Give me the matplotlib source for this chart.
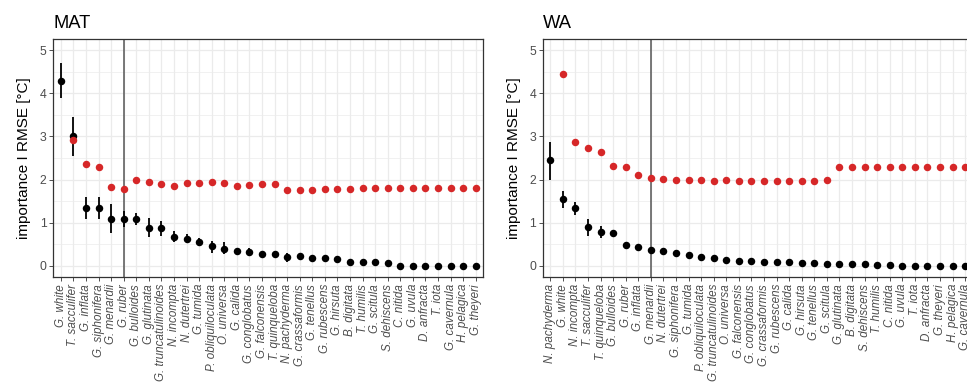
import matplotlib
matplotlib.use("Agg")
import matplotlib.pyplot as plt
import numpy as np

plt.rcParams['font.family'] = ['Liberation Sans', 'DejaVu Sans']

# --- data ---
mat_species = ["G. white", "T. sacculifer", "G. inflata", "G. siphonifera", "G. menardii",
               "G. ruber", "G. bulloides", "G. glutinata", "G. truncatulinoides", "N. incompta",
               "N. dutertrei", "G. tumida", "P. obliquiloculata", "O. universa", "G. calida",
               "G. conglobatus", "G. falconensis", "T. quinqueloba", "N. pachyderma",
               "G. crassaformis", "G. tenellus", "G. rubescens", "G. hirsuta", "B. digitata",
               "T. humilis", "G. scitula", "S. dehiscens", "C. nitida", "G. uvula",
               "D. anfracta", "T. iota", "G. cavernula", "H. pelagica", "G. theyeri"]
mat_importance = [4.28, 3.0, 1.33, 1.33, 1.09, 1.09, 1.09, 0.88, 0.87, 0.68, 0.62, 0.55,
                  0.46, 0.40, 0.35, 0.33, 0.27, 0.27, 0.21, 0.22, 0.19, 0.19, 0.15, 0.10,
                  0.10, 0.10, 0.07, 0.0, 0.0, 0.0, 0.0, 0.0, 0.0, 0.0]
mat_lower = [3.90, 2.54, 1.08, 1.08, 0.77, 0.90, 0.94, 0.67, 0.69, 0.55, 0.52, 0.45,
             0.31, 0.27, 0.31, 0.23, 0.23, 0.23, 0.10, 0.18, 0.16, 0.16, 0.12, 0.07,
             0.07, 0.07, 0.04, 0.0, 0.0, 0.0, 0.0, 0.0, 0.0, 0.0]
mat_upper = [4.69, 3.46, 1.59, 1.59, 1.44, 1.28, 1.23, 1.10, 1.05, 0.82, 0.73, 0.65,
             0.58, 0.55, 0.39, 0.42, 0.31, 0.31, 0.31, 0.26, 0.22, 0.22, 0.18, 0.13,
             0.13, 0.13, 0.10, 0.02, 0.02, 0.02, 0.02, 0.02, 0.02, 0.02]
mat_rmse = [np.nan, 2.92, 2.37, 2.28, 1.82, 1.79, 1.98, 1.94, 1.90, 1.86, 1.93, 1.93,
            1.94, 1.91, 1.85, 1.87, 1.89, 1.90, 1.75, 1.75, 1.76, 1.78, 1.79, 1.79,
            1.81, 1.81, 1.81, 1.80, 1.80, 1.80, 1.80, 1.80, 1.80, 1.80]
mat_cut = "G. ruber"

wa_species = ["N. pachyderma", "G. white", "N. incompta", "T. sacculifer", "T. quinqueloba",
              "G. bulloides", "G. ruber", "G. inflata", "G. menardii", "N. dutertrei",
              "G. siphonifera", "G. tumida", "P. obliquiloculata", "G. truncatulinoides",
              "O. universa", "G. falconensis", "G. conglobatus", "G. crassaformis",
              "G. rubescens", "G. calida", "G. hirsuta", "G. tenellus", "G. scitula",
              "G. glutinata", "B. digitata", "S. dehiscens", "T. humilis", "C. nitida",
              "G. uvula", "T. iota", "D. anfracta", "G. theyeri", "H. pelagica", "G. cavernula"]
wa_importance = [2.45, 1.54, 1.34, 0.90, 0.79, 0.77, 0.48, 0.44, 0.37, 0.35, 0.30, 0.26,
                 0.20, 0.19, 0.13, 0.12, 0.11, 0.10, 0.09, 0.085, 0.07, 0.06, 0.05, 0.05,
                 0.04, 0.04, 0.02, 0.015, 0.0, 0.0, 0.0, 0.0, 0.0, 0.0]
wa_lower = [2.00, 1.33, 1.19, 0.69, 0.65, 0.72, 0.40, 0.41, 0.34, 0.32, 0.27, 0.23,
            0.17, 0.16, 0.10, 0.09, 0.08, 0.07, 0.06, 0.06, 0.05, 0.04, 0.03, 0.03,
            0.02, 0.02, 0.0, 0.0, 0.0, 0.0, 0.0, 0.0, 0.0, 0.0]
wa_upper = [2.88, 1.73, 1.48, 1.09, 0.92, 0.82, 0.55, 0.47, 0.40, 0.38, 0.33, 0.29,
            0.23, 0.22, 0.16, 0.15, 0.14, 0.13, 0.12, 0.11, 0.09, 0.08, 0.07, 0.07,
            0.06, 0.06, 0.04, 0.03, 0.02, 0.02, 0.02, 0.02, 0.02, 0.02]
wa_rmse = [np.nan, 4.45, 2.86, 2.72, 2.65, 2.32, 2.28, 2.10, 2.04, 2.02, 2.00, 1.98,
           1.98, 1.96, 1.98, 1.96, 1.96, 1.96, 1.96, 1.96, 1.96, 1.96, 1.98, 2.28,
           2.28, 2.28, 2.28, 2.28, 2.28, 2.28, 2.28, 2.28, 2.28, 2.28]
wa_cut = "G. menardii"

panels = [("MAT", mat_species, mat_importance, mat_lower, mat_upper, mat_rmse, mat_cut),
          ("WA", wa_species, wa_importance, wa_lower, wa_upper, wa_rmse, wa_cut)]

RED = "#D62728"
GRID = "#EBEBEB"
TXT = "#4D4D4D"

fig = plt.figure(figsize=(9.67, 3.86), dpi=100)
# the right panel runs past the figure edge, as in the reference
axes = [fig.add_axes([0.0551, 0.2832, 0.4447, 0.615]),
        fig.add_axes([0.5612, 0.2832, 0.4447, 0.615])]

for ax, (title, species, imp, lo, hi, rmse, cut) in zip(axes, panels):
    x = np.arange(len(species))
    ax.set_xlim(-0.6, len(species) - 0.4)
    ax.set_ylim(-0.25, 5.25)

    # grid
    ax.set_yticks([0, 1, 2, 3, 4, 5])
    ax.set_yticks(np.arange(0.5, 5.0, 1.0), minor=True)
    ax.set_xticks(x)
    ax.grid(True, which="major", color=GRID, linewidth=0.9, zorder=0)
    ax.grid(True, which="minor", axis="y", color=GRID, linewidth=0.5, zorder=0)
    ax.set_axisbelow(True)

    # cut-off line
    ax.axvline(species.index(cut), color="#555555", linewidth=1.1, zorder=1)

    # point ranges
    ax.vlines(x, lo, hi, color="black", linewidth=1.3, zorder=2)
    ax.plot(x, imp, "o", color="black", markersize=5.4, markeredgewidth=0, zorder=3)
    ax.plot(x, rmse, "o", color=RED, markersize=5.4, markeredgewidth=0, zorder=4)

    ax.set_xticklabels(species, rotation=90, fontstyle="italic", fontsize=8.4, color=TXT)
    ax.tick_params(axis="y", labelsize=8.8, labelcolor=TXT, length=2.75, width=0.6,
                   color="#333333", pad=2)
    ax.tick_params(axis="y", which="minor", length=0)
    ax.tick_params(axis="x", length=2.75, width=0.6, color="#333333", pad=2.5)
    for s in ax.spines.values():
        s.set_color("#333333")
        s.set_linewidth(0.9)

    ax.set_ylabel("importance I RMSE [°C]", fontsize=11, labelpad=6)
    ax.set_title(title, loc="left", fontsize=13.2, pad=8)

fig.savefig("out.png", dpi=100)
